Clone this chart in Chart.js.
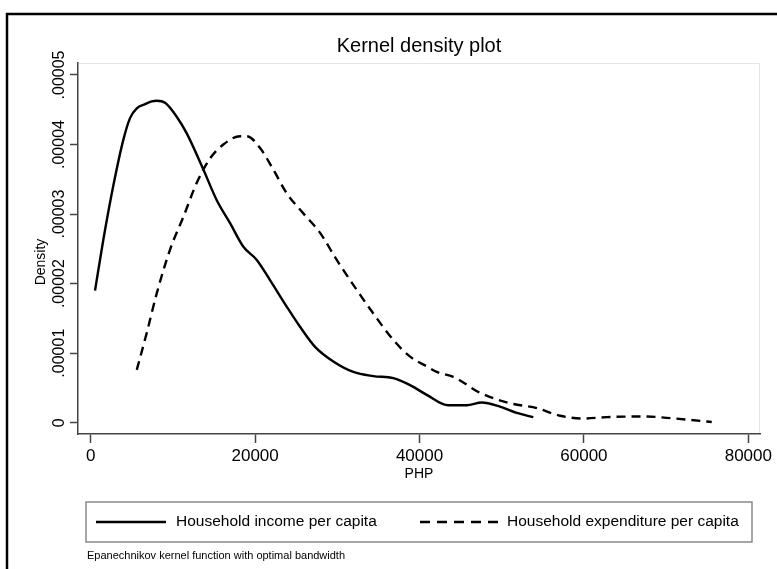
<!DOCTYPE html>
<html>
<head>
<meta charset="utf-8">
<script src="https://cdn.jsdelivr.net/npm/chart.js@4.4.1/dist/chart.umd.min.js"></script>
<style>
html,body{margin:0;padding:0;background:#fff;}
#wrap{position:relative;width:777px;height:569px;}
</style>
</head>
<body>
<div id="wrap"><canvas id="c" width="777" height="569"></canvas></div>
<script>
// ---- data ----
const incomeX = [520, 1530, 2750, 3970, 4780, 5600, 6610, 7420, 8030, 9040, 10460, 11680, 13700, 15330, 16950, 18570, 20200, 21810, 23840, 25460, 27290, 29510, 31950, 34380, 36810, 38850, 40880, 43500, 45740, 47570, 49790, 51830, 53840];
const incomeY = [1.90e-5, 2.63e-5, 3.41e-5, 4.07e-5, 4.38e-5, 4.52e-5, 4.58e-5, 4.62e-5, 4.63e-5, 4.60e-5, 4.40e-5, 4.16e-5, 3.64e-5, 3.20e-5, 2.87e-5, 2.53e-5, 2.34e-5, 2.05e-5, 1.67e-5, 1.38e-5, 1.09e-5, 0.88e-5, 0.73e-5, 0.67e-5, 0.64e-5, 0.54e-5, 0.40e-5, 0.25e-5, 0.25e-5, 0.29e-5, 0.23e-5, 0.14e-5, 0.08e-5];
const expendX = [5600, 6810, 8030, 9650, 11270, 12900, 14510, 16130, 18160, 18980, 20600, 22210, 23840, 25860, 27900, 29930, 32360, 34380, 36810, 38850, 40880, 42090, 44110, 47360, 51010, 54260, 57090, 59930, 62770, 67640, 70070, 72910, 75550];
const expendY = [0.76e-5, 1.29e-5, 1.86e-5, 2.49e-5, 2.96e-5, 3.45e-5, 3.80e-5, 4.00e-5, 4.12e-5, 4.12e-5, 3.95e-5, 3.64e-5, 3.30e-5, 3.01e-5, 2.73e-5, 2.34e-5, 1.91e-5, 1.57e-5, 1.19e-5, 0.95e-5, 0.81e-5, 0.73e-5, 0.66e-5, 0.43e-5, 0.28e-5, 0.21e-5, 0.10e-5, 0.06e-5, 0.08e-5, 0.09e-5, 0.07e-5, 0.04e-5, 0.01e-5];
const xTicks = [0, 20000, 40000, 60000, 80000];
const xTickLabels = ['0', '20000', '40000', '60000', '80000'];
const yTicks = [0, 0.00001, 0.00002, 0.00003, 0.00004, 0.00005];
const yTickLabels = ['0', '.00001', '.00002', '.00003', '.00004', '.00005'];
const seriesNames = ['Household income per capita', 'Household expenditure per capita'];
const titleText = 'Kernel density plot';
const xTitle = 'PHP';
const yTitle = 'Density';
const noteText = 'Epanechnikov kernel function with optimal bandwidth';

// ---- rendering ----
const F = '"Liberation Sans", Arial, Helvetica, sans-serif';
Chart.defaults.font.family = F;
Chart.defaults.color = '#000';

const Y_TICK_FONT = 16;
const mctx = document.createElement('canvas').getContext('2d');
mctx.font = Y_TICK_FONT + 'px ' + F;
const widest = Math.max(...yTickLabels.map(t => mctx.measureText(t).width));
const yTickPad = 78 - 8 - 60 - widest / 2;

const toPts = (xs, ys) => xs.map((x, i) => ({x: x, y: ys[i]}));

const LW = 2.4;
const dashPlot = [9, 6];
const dashLegend = [10, 7];

const decor = {
  id: 'decor',
  beforeDraw(chart) {
    const ctx = chart.ctx;
    ctx.save();
    ctx.fillStyle = '#fff';
    ctx.fillRect(0, 0, chart.width, chart.height);
    ctx.restore();
  },
  beforeDatasetsDraw(chart) {
    const {ctx, chartArea: a} = chart;
    ctx.save();
    ctx.strokeStyle = '#e4e4e4';
    ctx.lineWidth = 1;
    ctx.beginPath();
    ctx.moveTo(a.left + 1, a.top + 0.5);
    ctx.lineTo(a.right - 0.5, a.top + 0.5);
    ctx.lineTo(a.right - 0.5, a.bottom - 1);
    ctx.stroke();
    ctx.restore();
  },
  afterDraw(chart) {
    const ctx = chart.ctx;
    ctx.save();
    // outer frame
    ctx.strokeStyle = '#000';
    ctx.lineWidth = 2.5;
    ctx.beginPath();
    ctx.moveTo(7, chart.height + 2);
    ctx.lineTo(7, 14);
    ctx.lineTo(chart.width + 2, 14);
    ctx.stroke();

    // y axis title
    ctx.save();
    ctx.translate(41, 262);
    ctx.rotate(-Math.PI / 2);
    ctx.font = '14px ' + F;
    ctx.fillStyle = '#000';
    ctx.textAlign = 'center';
    ctx.textBaseline = 'middle';
    ctx.fillText(yTitle, 0, 0);
    ctx.restore();

    // legend box
    const bx = 86, by = 502, bw = 666, bh = 40;
    ctx.strokeStyle = '#8a8a8a';
    ctx.lineWidth = 1.5;
    ctx.strokeRect(bx, by, bw, bh);
    const cy = by + bh / 2;
    const ds = chart.data.datasets;
    const items = [
      {x0: 96, x1: 166, tx: 176, dash: []},
      {x0: 420, x1: 498, tx: 507, dash: dashLegend}
    ];
    items.forEach((it, i) => {
      ctx.strokeStyle = ds[i].borderColor;
      ctx.lineWidth = LW;
      ctx.setLineDash(it.dash);
      ctx.beginPath();
      ctx.moveTo(it.x0, cy);
      ctx.lineTo(it.x1, cy);
      ctx.stroke();
      ctx.setLineDash([]);
      ctx.fillStyle = '#000';
      ctx.font = '15.5px ' + F;
      ctx.textAlign = 'left';
      ctx.textBaseline = 'middle';
      ctx.fillText(ds[i].label, it.tx, cy);
    });

    // note
    ctx.font = '11px ' + F;
    ctx.fillStyle = '#000';
    ctx.textAlign = 'left';
    ctx.textBaseline = 'middle';
    ctx.fillText(noteText, 87, 556);
    ctx.restore();
  }
};

new Chart(document.getElementById('c'), {
  type: 'line',
  data: {
    datasets: [
      {
        label: seriesNames[0],
        data: toPts(incomeX, incomeY),
        borderColor: '#000',
        borderWidth: LW,
        pointRadius: 0,
        fill: false,
        tension: 0.4,
        cubicInterpolationMode: 'monotone'
      },
      {
        label: seriesNames[1],
        data: toPts(expendX, expendY),
        borderColor: '#000',
        borderWidth: LW,
        borderDash: dashPlot,
        pointRadius: 0,
        fill: false,
        tension: 0.4,
        cubicInterpolationMode: 'monotone'
      }
    ]
  },
  options: {
    responsive: false,
    animation: false,
    events: [],
    layout: {padding: {left: 0, top: 0, right: 17, bottom: 75}},
    plugins: {
      legend: {display: false},
      tooltip: {enabled: false},
      title: {
        display: true,
        text: titleText,
        fullSize: false,
        color: '#000',
        font: {size: 20, weight: 'normal'},
        padding: {top: 34, bottom: 5}
      }
    },
    scales: {
      x: {
        type: 'linear',
        min: -1550,
        max: 81420,
        afterBuildTicks: s => { s.ticks = xTicks.map(v => ({value: v})); },
        afterFit: s => { s.height = 60; },
        ticks: {
          callback: (v, i) => xTickLabels[i],
          color: '#000',
          font: {size: 17},
          padding: 3,
          minRotation: 0,
          maxRotation: 0,
          autoSkip: false
        },
        grid: {display: true, drawOnChartArea: false, drawTicks: true, tickLength: 9, tickColor: '#444', tickWidth: 1.5},
        border: {display: true, color: '#444', width: 1.5},
        title: {display: true, text: xTitle, color: '#000', font: {size: 14}, padding: {top: 0, bottom: 11.6}}
      },
      y: {
        type: 'linear',
        min: -0.001625e-3,
        max: 0.051725e-3,
        afterBuildTicks: s => { s.ticks = yTicks.map(v => ({value: v})); },
        afterFit: s => { s.width = 78; },
        ticks: {
          callback: (v, i) => yTickLabels[i],
          color: '#000',
          font: {size: Y_TICK_FONT},
          minRotation: 90,
          maxRotation: 90,
          crossAlign: 'center',
          padding: yTickPad,
          autoSkip: false
        },
        grid: {display: true, drawOnChartArea: false, drawTicks: true, tickLength: 8, tickColor: '#444', tickWidth: 1.5},
        border: {display: true, color: '#444', width: 1.5},
        title: {display: false, text: yTitle}
      }
    }
  },
  plugins: [decor]
});
</script>
</body>
</html>
